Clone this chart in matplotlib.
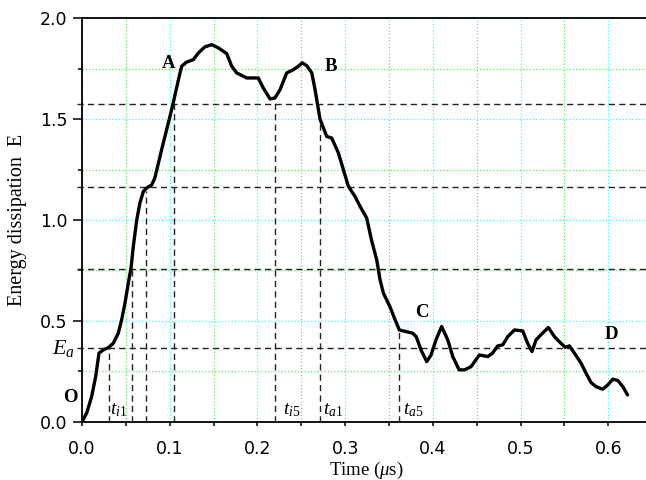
import matplotlib
matplotlib.use("Agg")
import matplotlib.pyplot as plt
from matplotlib.ticker import MultipleLocator

plt.rcParams['mathtext.fontset'] = 'custom'
plt.rcParams['mathtext.rm'] = 'Liberation Serif'
plt.rcParams['mathtext.it'] = 'Liberation Serif:italic'
plt.rcParams['mathtext.bf'] = 'Liberation Serif:bold'

# energy dissipation curve
time = [0.0, 0.0053, 0.011, 0.0156, 0.0194, 0.0243, 0.030, 0.0357, 0.0414, 0.0452,
        0.049, 0.0528, 0.0559, 0.0585, 0.0624, 0.066, 0.070, 0.0737, 0.0795, 0.083,
        0.087, 0.0908, 0.0946, 0.1003, 0.104, 0.110, 0.1136, 0.119, 0.127, 0.1327,
        0.140, 0.148, 0.1555, 0.165, 0.1707, 0.1764, 0.1878, 0.201, 0.2067, 0.2144,
        0.220, 0.2258, 0.2334, 0.241, 0.2467, 0.2512, 0.2562, 0.262, 0.2657, 0.2714,
        0.279, 0.2847, 0.2923, 0.298, 0.3037, 0.3113, 0.317, 0.3246, 0.330, 0.336,
        0.3398, 0.3436, 0.351, 0.357, 0.3618, 0.3694, 0.377, 0.381, 0.3865, 0.393,
        0.398, 0.4036, 0.410, 0.417, 0.4227, 0.430, 0.436, 0.4436, 0.453, 0.4626,
        0.468, 0.474, 0.4797, 0.4854, 0.493, 0.5025, 0.508, 0.513, 0.5177, 0.525,
        0.5317, 0.5386, 0.546, 0.551, 0.5557, 0.5614, 0.569, 0.5747, 0.5804, 0.586,
        0.5937, 0.5994, 0.6051, 0.611, 0.6165, 0.622]
energy = [0.0, 0.042, 0.124, 0.223, 0.340, 0.356, 0.367, 0.389, 0.439, 0.505,
          0.588, 0.687, 0.762, 0.869, 1.0, 1.084, 1.142, 1.159, 1.175, 1.208,
          1.28, 1.349, 1.415, 1.514, 1.581, 1.697, 1.763, 1.783, 1.796, 1.829,
          1.859, 1.870, 1.854, 1.826, 1.763, 1.730, 1.705, 1.705, 1.655, 1.601,
          1.606, 1.647, 1.730, 1.746, 1.763, 1.780, 1.766, 1.730, 1.647, 1.50,
          1.415, 1.407, 1.333, 1.250, 1.167, 1.117, 1.068, 1.010, 0.902, 0.803,
          0.704, 0.638, 0.571, 0.505, 0.455, 0.447, 0.439, 0.422, 0.356, 0.298,
          0.331, 0.406, 0.472, 0.406, 0.323, 0.257, 0.257, 0.273, 0.331, 0.323,
          0.340, 0.376, 0.381, 0.422, 0.455, 0.450, 0.389, 0.348, 0.406, 0.439,
          0.467, 0.422, 0.389, 0.369, 0.376, 0.340, 0.290, 0.240, 0.194, 0.174,
          0.161, 0.182, 0.211, 0.204, 0.174, 0.133]

# dashed guide lines
levels = [0.367, 0.757, 1.162, 1.576]
mark_times = [0.0304, 0.0565, 0.073, 0.1045, 0.2204, 0.2714, 0.361]
mark_tops = [0.367, 0.762, 1.142, 1.576, 1.60, 1.50, 0.455]

# point labels
point_names = ['A', 'B', 'C', 'D', 'O']
point_x = [0.099, 0.284, 0.388, 0.604, -0.0137]
point_y = [1.778, 1.763, 0.540, 0.430, 0.120]

time_names = [r'$t_{i\mathrm{1}}$', r'$t_{i\mathrm{5}}$', r'$t_{a\mathrm{1}}$', r'$t_{a\mathrm{5}}$']
time_label_x = [0.042, 0.239, 0.2858, 0.378]

x_max = 0.643

fig = plt.figure(figsize=(6.46, 4.8), dpi=100)
ax = fig.add_axes([0.1269, 0.1215, 0.8731, 0.840])

ax.set_xlim(0, x_max)
ax.set_ylim(0, 2.0)
ax.xaxis.set_major_locator(MultipleLocator(0.1))
ax.xaxis.set_minor_locator(MultipleLocator(0.05))
ax.yaxis.set_major_locator(MultipleLocator(0.5))
ax.yaxis.set_minor_locator(MultipleLocator(0.25))
ax.xaxis.set_major_formatter(plt.FuncFormatter(lambda v, p: '%.1f' % v))
ax.yaxis.set_major_formatter(plt.FuncFormatter(lambda v, p: '%.1f' % v))

ax.grid(which='major', color='#33ffff', linestyle=':', linewidth=0.9)
ax.grid(which='minor', color='#55ee55', linestyle=':', linewidth=0.9)
ax.set_axisbelow(True)

ax.spines['right'].set_visible(False)
for s in ['left', 'bottom', 'top']:
    ax.spines[s].set_linewidth(1.3)

ax.tick_params(axis='y', which='major', direction='out', length=6.5, width=1.1, pad=4,
               labelsize=12.5, labelfontfamily='DejaVu Sans')
ax.tick_params(axis='y', which='minor', direction='out', length=3.2, width=1.1)
ax.tick_params(axis='x', which='both', direction='out', length=3, width=1.1, pad=10,
               labelsize=12.5, labelfontfamily='DejaVu Sans')

# guides
for lv in levels:
    ax.plot([-0.006, x_max], [lv, lv], color='#222222', linestyle='--', dashes=(4.5, 3),
            linewidth=1.0, clip_on=False, zorder=2)
for tx, ty in zip(mark_times, mark_tops):
    ax.plot([tx, tx], [0, ty], color='#222222', linestyle='--', dashes=(4.5, 3),
            linewidth=1.0, zorder=2)

ax.plot(time, energy, color='black', linewidth=2.4, solid_joinstyle='round',
        solid_capstyle='round', zorder=3)

for name, px, py in zip(point_names, point_x, point_y):
    ax.text(px, py, name, fontsize=13.5, fontweight='bold', family='Liberation Serif',
            ha='center', va='center', clip_on=False)

for name, px in zip(time_names, time_label_x):
    ax.text(px, 0.058, name, fontsize=14, ha='center', va='center')

ax.text(-0.0213, 0.365, r'$E_a$', fontsize=16, ha='center', va='center', clip_on=False)

ax.set_xlabel(r'Time ($\mu$s)', fontsize=13.5, family='Liberation Serif')
ax.xaxis.label.set_va('center')
ax.xaxis.set_label_coords(0.5035, -0.122)
ax.set_ylabel('Energy dissipation  E', fontsize=14.5, family='Liberation Serif')
ax.yaxis.label.set_va('center')
ax.yaxis.set_label_coords(-0.1135, 0.5)

fig.savefig('out.png', dpi=100)
